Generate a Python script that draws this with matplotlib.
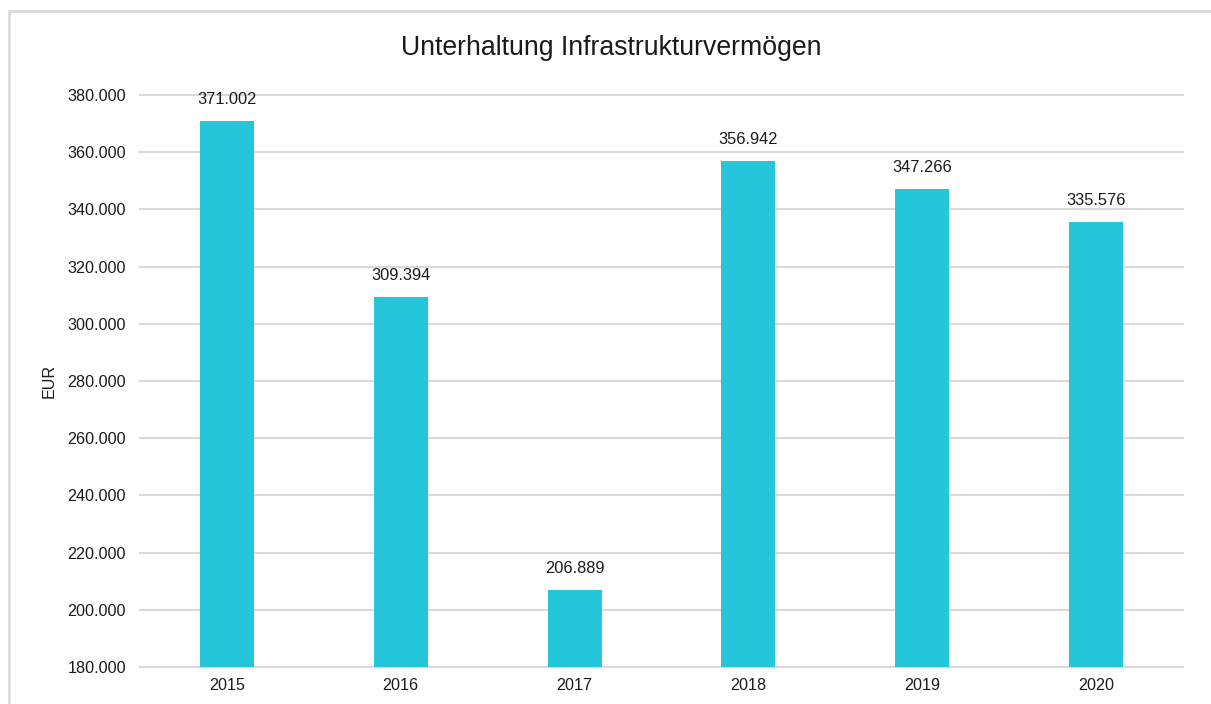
import matplotlib.pyplot as plt
from matplotlib.patches import Rectangle
from matplotlib.ticker import FuncFormatter

plt.rcParams['font.family'] = ['Liberation Sans', 'DejaVu Sans']

years = ['2015', '2016', '2017', '2018', '2019', '2020']
values = [371002, 309394, 206889, 356942, 347266, 335576]
labels = ['371.002', '309.394', '206.889', '356.942', '347.266', '335.576']

fig = plt.figure(figsize=(12.11, 7.04), dpi=100)
ax = fig.add_axes([0.1156, 0.0526, 0.8613, 0.8125])

# outer frame of the chart box
fig.patches.append(Rectangle((9 / 1211, -0.05), 1.1, 1 - 11 / 704 + 0.05,
                             transform=fig.transFigure, fill=False,
                             edgecolor='#d9d9d9', linewidth=2))

bars = ax.bar(years, values, width=0.31, color='#26C6DA', zorder=3)
for b, lab in zip(bars, labels):
    ax.annotate(lab, (b.get_x() + b.get_width() / 2, b.get_height()),
                xytext=(0, 10), textcoords='offset points',
                ha='center', va='bottom', fontsize=11.8, color='#1a1a1a')

ax.set_ylim(180000, 380000)
ax.set_xlim(-0.5, 5.5)
ax.set_yticks(range(180000, 380001, 20000))
ax.yaxis.set_major_formatter(FuncFormatter(lambda v, p: f'{int(v):,}'.replace(',', '.')))
ax.grid(axis='y', color='#d9d9d9', linewidth=1.5, zorder=0)
for gl in ax.get_ygridlines():
    gl.set_clip_on(False)
for s in ['top', 'right', 'left']:
    ax.spines[s].set_visible(False)
ax.spines['bottom'].set_color('#d9d9d9')
ax.spines['bottom'].set_linewidth(1.5)
ax.tick_params(axis='both', length=0, labelsize=11.6, colors='#1a1a1a', pad=8)
ax.tick_params(axis='y', pad=10)

ax.set_ylabel('EUR', fontsize=11.6, color='#1a1a1a', labelpad=8)
fig.text(0.505, 0.932, 'Unterhaltung Infrastrukturvermögen', ha='center', va='center',
         fontsize=19.2, color='#1a1a1a')

fig.savefig('out.png', dpi=100)
